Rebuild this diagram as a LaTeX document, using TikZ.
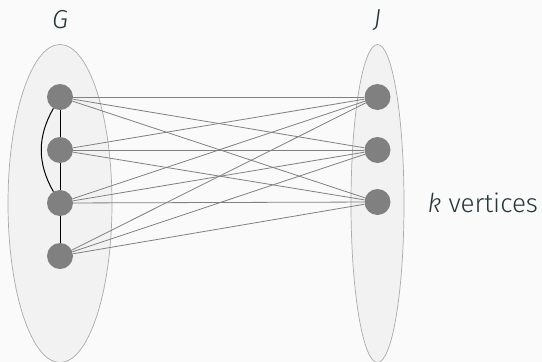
\documentclass[tikz,border=0pt]{standalone}
\usepackage{fontspec}
\setmainfont{Fira Sans}[UprightFont=* Light, ItalicFont=* Light Italic]
\begin{document}
\begin{tikzpicture}[x=1pt,y=-1pt,
  vtx/.style={circle,fill=black!50,inner sep=0pt,minimum size=26pt},
  grp/.style={draw=black!33,fill=black!5,line width=0.7pt},
  cross/.style={draw=black!50,line width=0.8pt},
  inner/.style={draw=black,line width=1pt},
  lbl/.style={text=mdt,font=\fontsize{26}{30}\selectfont}]
\definecolor{mdt}{HTML}{23373B}
\fill[fill={rgb,255:red,250;green,250;blue,250}] (0,0) rectangle (542,362);
\useasboundingbox (0,0) rectangle (542,362);
\path[grp] (60,203.5) ellipse [x radius=52, y radius=159];
\path[grp] (377.5,203.5) ellipse [x radius=26.5, y radius=159];
\node[vtx] (a1) at (60,97) {};
\node[vtx] (a2) at (60,150) {};
\node[vtx] (a3) at (60,203) {};
\node[vtx] (a4) at (60,256) {};
\node[vtx] (b1) at (377.5,97) {};
\node[vtx] (b2) at (377.5,150) {};
\node[vtx] (b3) at (377.5,202) {};
\foreach \i in {1,2,3,4}{\foreach \j in {1,2,3}{\draw[cross] (a\i) -- (b\j);}}
\draw[inner] (a1) -- (a2) -- (a3) -- (a4);
\draw[inner] (a1) to[bend right=30] (a3);
\node[lbl] (g) at (60,20) {\itshape G};
\node[lbl] (jl) at (377.5,20) {\itshape J};
\node[lbl,anchor=west,inner sep=0pt] (kv) at (427.5,203) {\itshape k\upshape{} vertices};
\end{tikzpicture}
\end{document}
